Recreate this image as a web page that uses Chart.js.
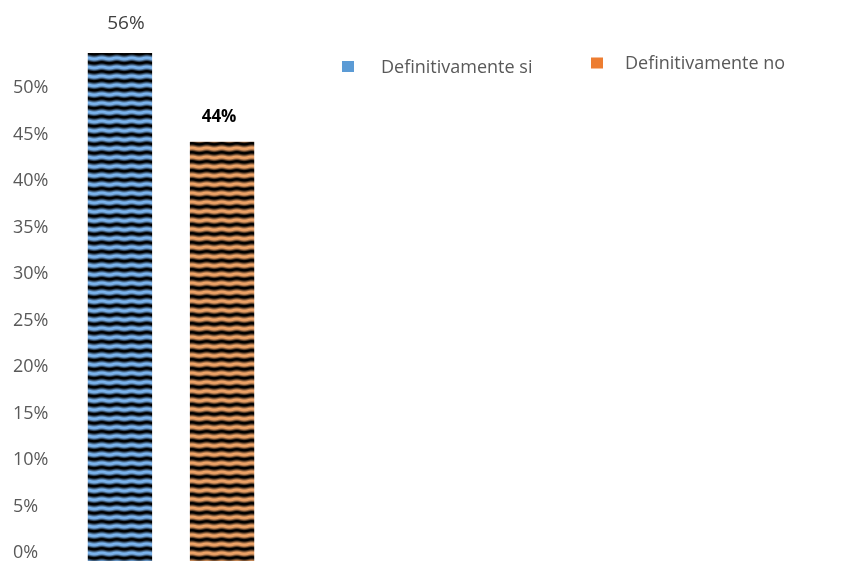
<!DOCTYPE html>
<html>
<head>
<meta charset="utf-8">
<script src="https://cdn.jsdelivr.net/npm/chart.js@4.4.1/dist/chart.umd.min.js"></script>
<style>
  html, body { margin: 0; padding: 0; background: #fff; overflow: hidden; }
  #wrap { position: relative; width: 865px; height: 561px; overflow: hidden; }
</style>
</head>
<body>
<div id="wrap"><canvas id="chart"></canvas></div>
<script>
const categories = ['Respuesta'];
const seriesNames = ['Definitivamente si', 'Definitivamente no'];
const seriesValues = [[56], [44]];
const yTicks = [0, 5, 10, 15, 20, 25, 30, 35, 40, 45, 50];

const yMin = -1.08;
const yMax = 53.55;
const fontFamily = "'Open Sans', 'DejaVu Sans', sans-serif";

// striped fill like the original picture
function stripes(r, g, b) {
    const c = document.createElement('canvas');
    c.width = 30;
    c.height = 9;
    const ctx = c.getContext('2d');
    ctx.fillStyle = '#000';
    ctx.fillRect(0, 0, 30, 9);
    for (let x = 0; x < 30; x++) {
        const shift = Math.sin(x / 30 * Math.PI * 4) * 0.5;
        const grad = ctx.createLinearGradient(0, shift, 0, 9 + shift);
        grad.addColorStop(0.05, 'rgba(0,0,0,1)');
        grad.addColorStop(0.4, `rgba(${r},${g},${b},1)`);
        grad.addColorStop(0.6, `rgba(${r},${g},${b},0.95)`);
        grad.addColorStop(0.9, 'rgba(0,0,0,1)');
        ctx.fillStyle = grad;
        ctx.fillRect(x, 0, 1, 9);
    }
    return document.getElementById('chart').getContext('2d').createPattern(c, 'repeat');
}

const legendColors = ['#5b9bd5', '#ed7d31'];
const fills = [stripes(125, 182, 240), stripes(240, 165, 105)];

// custom legend placed on the right, like the reference
const sideLegend = {
    id: 'sideLegend',
    afterDraw(chart) {
        const ctx = chart.ctx;
        const items = [
            { box: [342, 61, 12, 11], text: [381, 72.7] },
            { box: [591, 57.5, 12, 11], text: [625, 69] }
        ];
        ctx.save();
        ctx.font = `18px ${fontFamily}`;
        ctx.textBaseline = 'alphabetic';
        ctx.textAlign = 'left';
        items.forEach((it, i) => {
            ctx.fillStyle = legendColors[i];
            ctx.fillRect(...it.box);
            ctx.fillStyle = '#595959';
            ctx.fillText(chart.data.datasets[i].label, it.text[0], it.text[1]);
        });
        ctx.restore();
    }
};

const valueLabels = {
    id: 'valueLabels',
    afterDatasetsDraw(chart) {
        const ctx = chart.ctx;
        const top = chart.chartArea.top;
        ctx.save();
        ctx.textAlign = 'center';
        ctx.textBaseline = 'alphabetic';
        chart.data.datasets.forEach((ds, i) => {
            chart.getDatasetMeta(i).data.forEach((bar, j) => {
                const clipped = bar.y < top;
                ctx.font = clipped ? `19px ${fontFamily}` : `bold 17px ${fontFamily}`;
                ctx.fillStyle = clipped ? '#404040' : '#000';
                const y = clipped ? top - 24 : bar.y - 20;
                ctx.fillText(Math.round(ds.data[j]) + '%', bar.x + (clipped ? 6 : -3), y);
            });
        });
        ctx.restore();
    }
};

new Chart(document.getElementById('chart'), {
    type: 'bar',
    data: {
        labels: categories,
        datasets: seriesNames.map((name, i) => ({
            label: name,
            data: seriesValues[i],
            backgroundColor: fills[i],
            base: yMin,
            categoryPercentage: 0.92,
            barPercentage: 0.63
        }))
    },
    options: {
        responsive: true,
        maintainAspectRatio: false,
        animation: false,
        layout: { padding: { top: 53, bottom: 0, left: 13, right: 583 } },
        plugins: {
            legend: { display: false },
            tooltip: { enabled: false }
        },
        scales: {
            x: { display: false },
            y: {
                min: yMin,
                max: yMax,
                grid: { display: false },
                border: { display: false },
                afterBuildTicks(scale) {
                    scale.ticks = yTicks.map(v => ({ value: v }));
                },
                afterFit(scale) {
                    scale.width = 47;
                    scale.paddingTop = 0;
                    scale.paddingBottom = 0;
                },
                ticks: {
                    crossAlign: 'far',
                    labelOffset: 2,
                    color: '#595959',
                    font: { family: fontFamily, size: 18 },
                    callback: v => v + '%'
                }
            }
        }
    },
    plugins: [valueLabels, sideLegend]
});
</script>
</body>
</html>
